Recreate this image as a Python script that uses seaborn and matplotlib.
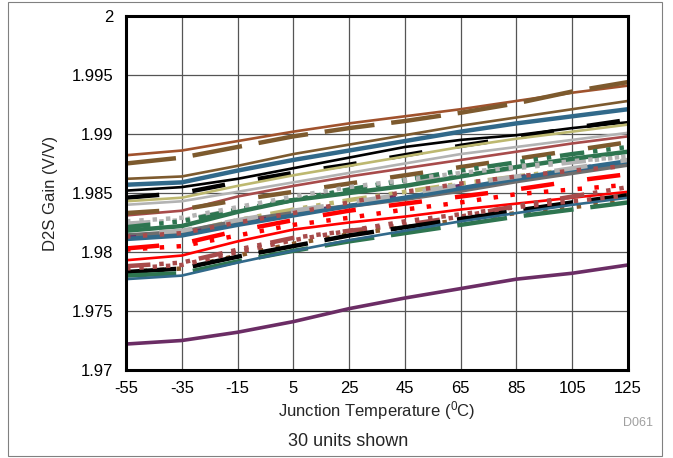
import numpy as np
import pandas as pd
import seaborn as sns
import matplotlib.pyplot as plt
from matplotlib.patches import Rectangle

# junction temperature (deg C)
temps = [-55, -35, -15, 5, 25, 45, 65, 85, 105, 125]

# D2S gain per unit (V/V)
u01 = [1.9882, 1.9886, 1.9894, 1.9902, 1.9909, 1.9915, 1.9921, 1.9928, 1.9935, 1.9941]
u02 = [1.9875, 1.9880, 1.9889, 1.9898, 1.9905, 1.9911, 1.9918, 1.9926, 1.9936, 1.9944]
u03 = [1.9862, 1.9864, 1.9873, 1.9883, 1.9891, 1.9899, 1.9907, 1.9914, 1.9921, 1.9928]
u04 = [1.9857, 1.9859, 1.9869, 1.9878, 1.9886, 1.9894, 1.9902, 1.9909, 1.9915, 1.9921]
u05 = [1.9852, 1.9855, 1.9862, 1.9871, 1.9880, 1.9889, 1.9895, 1.9899, 1.9905, 1.9910]
u06 = [1.9846, 1.9850, 1.9859, 1.9867, 1.9874, 1.9882, 1.9890, 1.9897, 1.9905, 1.9912]
u07 = [1.9843, 1.9846, 1.9856, 1.9865, 1.9873, 1.9881, 1.9889, 1.9896, 1.9902, 1.9908]
u08 = [1.9840, 1.9843, 1.9851, 1.9859, 1.9867, 1.9875, 1.9883, 1.9889, 1.9895, 1.9901]
u09 = [1.9831, 1.9835, 1.9847, 1.9856, 1.9864, 1.9871, 1.9878, 1.9885, 1.9892, 1.9898]
u10 = [1.9833, 1.9836, 1.9844, 1.9851, 1.9858, 1.9865, 1.9872, 1.9879, 1.9886, 1.9893]
u11 = [1.9824, 1.9827, 1.9836, 1.9844, 1.9852, 1.9859, 1.9865, 1.9871, 1.9876, 1.9881]
u12 = [1.9818, 1.9822, 1.9834, 1.9844, 1.9850, 1.9856, 1.9864, 1.9872, 1.9879, 1.9885]
u13 = [1.9821, 1.9826, 1.9836, 1.9844, 1.9853, 1.9861, 1.9869, 1.9876, 1.9883, 1.9889]
u14 = [1.9812, 1.9816, 1.9827, 1.9836, 1.9844, 1.9851, 1.9858, 1.9864, 1.9870, 1.9875]
u15 = [1.9814, 1.9817, 1.9826, 1.9833, 1.9839, 1.9845, 1.9852, 1.9860, 1.9867, 1.9874]
u16 = [1.9812, 1.9815, 1.9824, 1.9832, 1.9840, 1.9848, 1.9856, 1.9863, 1.9870, 1.9877]
u17 = [1.9811, 1.9814, 1.9823, 1.9831, 1.9839, 1.9846, 1.9854, 1.9862, 1.9870, 1.9877]
u18 = [1.9815, 1.9818, 1.9827, 1.9835, 1.9842, 1.9849, 1.9857, 1.9864, 1.9871, 1.9878]
u19 = [1.9803, 1.9807, 1.9818, 1.9827, 1.9835, 1.9841, 1.9847, 1.9853, 1.9860, 1.9866]
u20 = [1.9802, 1.9805, 1.9814, 1.9823, 1.9829, 1.9836, 1.9842, 1.9849, 1.9853, 1.9857]
u21 = [1.9813, 1.9816, 1.9825, 1.9833, 1.9842, 1.9851, 1.9858, 1.9864, 1.9869, 1.9873]
u22 = [1.9793, 1.9797, 1.9809, 1.9819, 1.9825, 1.9830, 1.9836, 1.9841, 1.9846, 1.9851]
u23 = [1.9788, 1.9791, 1.9802, 1.9812, 1.9818, 1.9823, 1.9830, 1.9839, 1.9847, 1.9855]
u24 = [1.9783, 1.9786, 1.9797, 1.9807, 1.9815, 1.9821, 1.9827, 1.9833, 1.9838, 1.9843]
u25 = [1.9783, 1.9786, 1.9796, 1.9805, 1.9814, 1.9821, 1.9828, 1.9835, 1.9842, 1.9848]
u26 = [1.9780, 1.9782, 1.9792, 1.9801, 1.9809, 1.9816, 1.9823, 1.9830, 1.9836, 1.9842]
u27 = [1.9777, 1.9780, 1.9791, 1.9801, 1.9810, 1.9818, 1.9826, 1.9833, 1.9840, 1.9846]
u28 = [1.9722, 1.9725, 1.9732, 1.9741, 1.9752, 1.9761, 1.9769, 1.9777, 1.9782, 1.9789]
u29 = [1.9786, 1.9789, 1.9800, 1.9810, 1.9818, 1.9826, 1.9832, 1.9838, 1.9843, 1.9848]
u30 = [1.9826, 1.9829, 1.9838, 1.9847, 1.9855, 1.9861, 1.9867, 1.9872, 1.9877, 1.9881]

xticks = [-55, -35, -15, 5, 25, 45, 65, 85, 105, 125]
yticks = [1.97, 1.975, 1.98, 1.985, 1.99, 1.995, 2.0]
ytick_labels = ["1.97", "1.975", "1.98", "1.985", "1.99", "1.995", "2"]

# line styles (dash lengths in units of line width)
SOLID = "-"
DASH = (0, (7.5, 7.5))
DASH2 = (7.5, (7.5, 7.5))
LONG = (0, (11.3, 3.8))
DDD = (0, (5.5, 2, 1, 2, 1, 2, 1, 2))
DOT = (0, (1, 2))
DOTW = (0, (1, 2.8))
SHORT = (0, (2.3, 12.5))

THICK = 3.2
THIN = 1.9

sienna = "#A0522D"
brown = "#7D5A2E"
teal = "#31698A"
olive = "#BDB870"
lgray = "#B3B3B3"
ired = "#A84B4B"
green = "#2E7550"
dgray = "#6E6E6E"
purple = "#6B2D65"
rust = "#8C5A2B"

units = [
    (u01, sienna, THIN, SOLID), (u02, brown, THICK, LONG), (u03, brown, THIN, SOLID),
    (u04, teal, THICK, SOLID), (u05, "black", THIN, SOLID), (u06, "black", THICK, DASH),
    (u07, olive, THIN, SOLID), (u08, lgray, THIN, SOLID), (u09, ired, THIN, SOLID),
    (u10, brown, THICK, DASH), (u11, lgray, THICK, DDD), (u12, green, THICK, SOLID),
    (u13, green, THICK, DDD), (u14, olive, THICK, DDD), (u15, dgray, THICK, SOLID),
    (u16, purple, THICK, SHORT), (u17, teal, THICK, SOLID), (u18, lgray, THICK, DASH2),
    (u19, "red", THICK, DASH), (u20, "red", THICK, DOTW), (u21, ired, THICK, DOTW),
    (u22, "red", THIN, SOLID), (u23, ired, THICK, DDD), (u24, rust, THICK, DOTW),
    (u25, "black", THICK, LONG), (u26, green, THICK, LONG), (u27, teal, THIN, SOLID),
    (u28, purple, 2.6, SOLID), (u29, ired, THICK, DOT), (u30, lgray, THICK, DOT),
]

sns.set_style("white")
plt.rcParams["font.family"] = ["Liberation Sans", "DejaVu Sans"]
plt.rcParams["mathtext.fontset"] = "custom"
plt.rcParams["mathtext.rm"] = "Liberation Sans"

fig = plt.figure(figsize=(6.73, 4.58), dpi=100)
ax = fig.add_axes([126 / 673, 1 - 370 / 458, 502 / 673, 354 / 458])

for vals, col, lw, ls in units:
    sns.lineplot(x=temps, y=vals, ax=ax, color=col, lw=lw, linestyle=ls,
                 dash_capstyle="butt", solid_capstyle="butt")

ax.set_xlim(-55, 125)
ax.set_ylim(1.97, 2.0)
ax.set_xticks(xticks)
ax.set_xticklabels([str(t) for t in xticks])
ax.set_yticks(yticks)
ax.set_yticklabels(ytick_labels)
ax.tick_params(length=0, labelsize=12, colors="black")
ax.tick_params(axis="y", pad=9)
ax.tick_params(axis="x", pad=8)
ax.grid(True, color="#555555", lw=0.9)
ax.set_axisbelow(True)
for s in ax.spines.values():
    s.set_color("black")
    s.set_linewidth(2.2)

ax.set_ylabel("D2S Gain (V/V)", fontsize=12, labelpad=10)
ax.set_xlabel(r"Junction Temperature ($\mathregular{^0}$C)", fontsize=12, labelpad=2)

fig.text(638 / 673, 1 - 423 / 458, "D061", fontsize=9, color="#A0A0A0", ha="center", va="center")
fig.text(348 / 673, 1 - 441 / 458, "30 units shown", fontsize=13, ha="center", va="center")

fig.patches.append(Rectangle((8 / 673, 2 / 458), 654 / 673, 454 / 458, transform=fig.transFigure,
                             fill=False, edgecolor="#808080", lw=0.8))

fig.savefig("out.png", dpi=100)
